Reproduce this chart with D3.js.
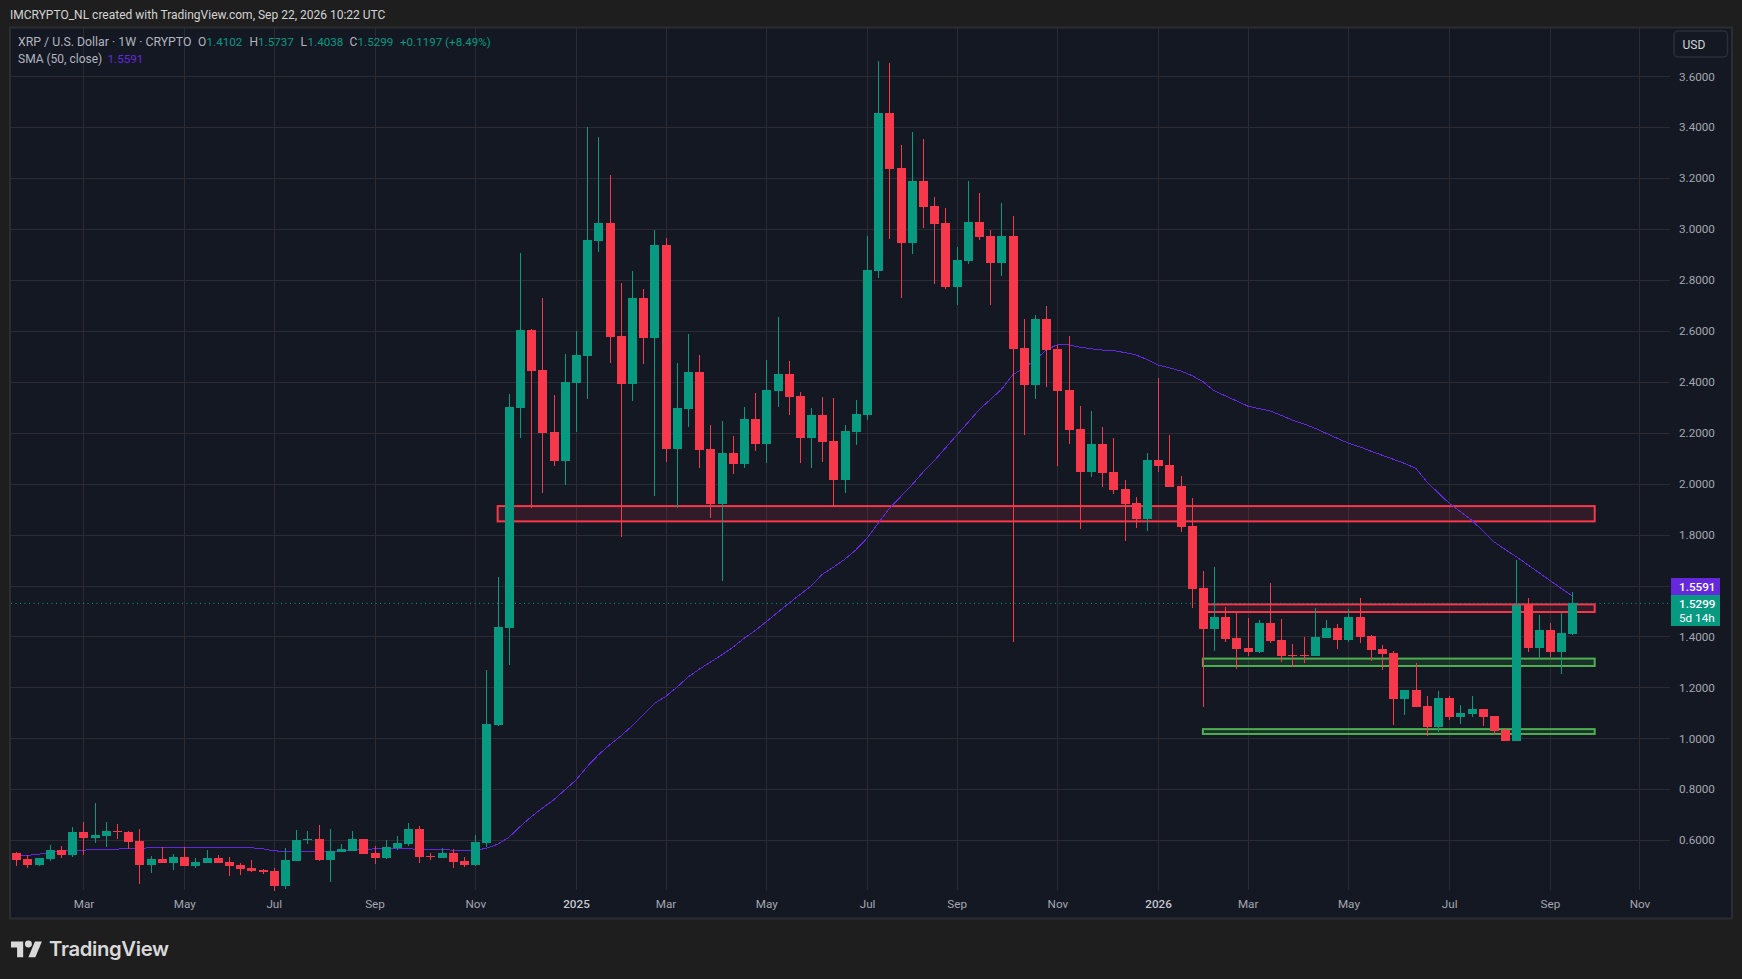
<!DOCTYPE html>
<html><head><meta charset="utf-8"><title>XRP / U.S. Dollar</title>
<script src="https://d3js.org/d3.v7.min.js"></script>
<style>html,body{margin:0;padding:0;background:#1e1e1e;overflow:hidden}svg{display:block}text{font-family:Roboto,sans-serif}</style>
</head><body><svg id="c" width="1742" height="979"></svg>
<script>
const opens=[.550,.526,.502,.526,.561,.542,.632,.609,.616,.636,.632,.597,.502,.526,.510,.534,.499,.510,.530,.514,.502,.491,.483,.479,.420,.518,.602,.605,.522,.554,.557,.605,.550,.530,.569,.585,.644,.538,.530,.550,.518,.502,.589,1.052,1.433,2.298,2.604,2.447,2.203,2.089,2.396,2.502,2.953,3.024,2.580,2.392,2.730,2.572,2.938,2.136,2.294,2.439,2.136,1.920,2.121,2.078,2.254,2.156,2.364,2.431,2.345,2.180,2.270,2.168,2.015,2.203,2.270,2.836,3.456,3.240,2.946,3.189,3.091,3.024,2.773,2.875,3.028,2.973,2.867,2.973,2.533,2.388,2.647,2.529,2.368,2.215,2.046,2.156,2.046,1.979,1.924,1.862,2.093,2.074,1.991,1.834,1.591,1.430,1.477,1.394,1.355,1.339,1.453,1.386,1.327,1.327,1.323,1.394,1.433,1.386,1.477,1.402,1.351,1.335,1.155,1.190,1.127,1.045,1.159,1.084,1.096,1.115,1.088,1.033,.990,1.524,1.355,1.426,1.339,1.4102];
const highs=[.554,.540,.530,.581,.577,.652,.671,.746,.671,.663,.636,.644,.538,.573,.546,.573,.530,.561,.542,.534,.510,.522,.487,.491,.569,.640,.636,.660,.644,.585,.636,.605,.577,.601,.616,.667,.656,.550,.569,.565,.534,.620,1.268,1.634,2.353,2.906,2.609,2.730,2.349,2.510,2.600,3.401,3.362,3.213,2.788,2.836,2.765,2.997,2.965,2.474,2.588,2.506,2.231,2.246,2.188,2.301,2.356,2.486,2.655,2.482,2.360,2.298,2.341,2.337,2.231,2.329,2.973,3.660,3.653,3.330,3.382,3.354,3.126,3.083,2.930,3.189,3.142,2.997,3.103,3.052,2.647,2.663,2.698,2.545,2.580,2.305,2.286,2.223,2.180,2.015,1.948,2.121,2.415,2.192,2.030,1.944,1.657,1.673,1.516,1.496,1.473,1.465,1.610,1.469,1.371,1.398,1.512,1.465,1.449,1.508,1.551,1.406,1.367,1.343,1.190,1.296,1.166,1.186,1.166,1.131,1.166,1.115,1.088,1.041,1.700,1.551,1.485,1.453,1.492,1.5737];
const lows=[.499,.492,.499,.519,.530,.534,.542,.589,.573,.605,.565,.428,.471,.510,.483,.499,.491,.510,.510,.459,.463,.475,.467,.400,.408,.518,.585,.518,.436,.554,.557,.546,.506,.526,.561,.577,.510,.522,.530,.491,.495,.499,.573,1.050,1.288,2.180,1.905,1.964,2.070,1.995,2.203,2.333,2.910,2.474,1.791,2.325,2.470,1.952,2.085,1.905,2.223,2.062,1.866,1.618,2.038,2.062,2.129,2.081,2.301,2.270,2.081,2.062,2.085,1.913,1.964,2.152,2.250,2.808,2.961,2.730,2.902,3.005,2.785,2.765,2.702,2.863,2.957,2.702,2.816,1.378,2.192,2.333,2.380,2.070,2.156,1.822,2.026,1.987,1.960,1.775,1.826,1.814,2.046,1.987,1.811,1.512,1.124,1.343,1.378,1.272,1.323,1.335,1.375,1.300,1.280,1.296,1.323,1.394,1.351,1.378,1.375,1.304,1.268,1.052,1.092,1.123,1.009,1.025,1.072,1.056,1.084,1.049,1.013,.990,.990,1.339,1.312,1.320,1.253,1.4038];
const closes=[.522,.502,.530,.561,.542,.632,.609,.620,.636,.633,.593,.502,.526,.510,.534,.499,.514,.530,.510,.499,.487,.479,.475,.420,.522,.601,.605,.522,.557,.565,.605,.546,.530,.573,.589,.644,.534,.535,.550,.514,.502,.593,1.056,1.437,2.301,2.604,2.443,2.199,2.089,2.400,2.506,2.957,3.024,2.576,2.392,2.730,2.572,2.938,2.136,2.298,2.439,2.133,1.920,2.121,2.078,2.254,2.156,2.368,2.431,2.341,2.180,2.270,2.164,2.015,2.207,2.274,2.840,3.456,3.236,2.946,3.189,3.087,3.020,2.773,2.879,3.028,2.969,2.867,2.973,2.529,2.388,2.647,2.525,2.364,2.211,2.046,2.156,2.042,1.975,1.920,1.862,2.093,2.070,1.987,1.830,1.587,1.430,1.477,1.390,1.351,1.339,1.453,1.382,1.323,1.324,1.324,1.398,1.433,1.386,1.477,1.398,1.347,1.331,1.155,1.190,1.123,1.045,1.159,1.084,1.100,1.115,1.084,1.029,.990,1.524,1.355,1.426,1.339,1.414,1.5299];
const sma50=[.536,.540,.545,.552,.556,.559,.561,.562,.563,.565,.566,.568,.570,.570,.570,.570,.570,.570,.570,.570,.570,.570,.566,.558,.556,.555,.555,.555,.556,.558,.560,.563,.566,.567,.566,.566,.564,.563,.562,.561,.560,.560,.568,.584,.611,.653,.692,.726,.758,.797,.836,.889,.935,.974,1.009,1.048,1.092,1.137,1.164,1.200,1.240,1.271,1.299,1.327,1.357,1.392,1.423,1.458,1.494,1.530,1.564,1.598,1.644,1.672,1.703,1.740,1.786,1.845,1.903,1.949,1.995,2.045,2.09,2.14,2.19,2.24,2.29,2.33,2.37,2.427,2.455,2.485,2.525,2.546,2.546,2.536,2.530,2.525,2.523,2.515,2.506,2.488,2.466,2.455,2.443,2.425,2.401,2.365,2.345,2.325,2.305,2.295,2.286,2.268,2.250,2.235,2.218,2.198,2.178,2.159,2.145,2.128,2.112,2.096,2.080,2.061,2.008,1.965,1.923,1.890,1.857,1.815,1.772,1.742,1.713,1.682,1.651,1.620,1.589,1.5591];
const priceTicks=[3.6,3.4,3.2,3.0,2.8,2.6,2.4,2.2,2.0,1.8,1.4,1.2,1.0,0.8,0.6];
const gridPrices=[3.6,3.4,3.2,3.0,2.8,2.6,2.4,2.2,2.0,1.8,1.6,1.4,1.2,1.0,0.8,0.6];
const timeTickBars=[6,15,23,32,41,50,58,67,76,84,93,102,110,119,128,137,145];
const timeTickLabels=["Mar","May","Jul","Sep","Nov","2025","Mar","May","Jul","Sep","Nov","2026","Mar","May","Jul","Sep","Nov"];
const zoneStart=[43,106,106,106];
const zoneEnd=[141,141,141,141];
const zoneTop=[1.912,1.526,1.313,1.036];
const zoneBottom=[1.852,1.496,1.284,1.017];
const zoneKind=["red","red","green","green"];
const lastClose=1.5299, lastSma=1.5591;

const UP="#089981",DOWN="#f7374a",GRID="#2a2b33",LABEL="#a3a6af";
const svg=d3.select("#c");
const x=d3.scaleLinear().domain([0,139]).range([16.3,1572.3]);
const y=d3.scaleLinear().domain([1,3.6]).range([738.3,76.3]);
const bars=d3.range(closes.length);

svg.append("rect").attr("x",0).attr("y",0).attr("width",1742).attr("height",979).attr("fill","#1e1e1e");
svg.append("rect").attr("x",10).attr("y",27.5).attr("width",1722).attr("height",891).attr("fill","#141823").attr("stroke","#2a2e2e").attr("stroke-width",2);

// grid through D3 axes
const gy=svg.append("g").attr("transform","translate(1670,0)").attr("shape-rendering","crispEdges")
  .call(d3.axisLeft(y).tickValues(gridPrices).tickSize(1659).tickFormat(""));
const gx=svg.append("g").attr("transform","translate(0,890)").attr("shape-rendering","crispEdges")
  .call(d3.axisBottom(x).tickValues(timeTickBars).tickSize(-862).tickFormat(""));
[gy,gx].forEach(g=>{g.select(".domain").remove();g.selectAll("line").attr("stroke",GRID).attr("stroke-width",1);});

// zones
const zoneCol={red:{s:"#f7374a",f:"rgba(247,55,74,0.13)"},green:{s:"#4caf50",f:"rgba(76,175,80,0.16)"}};
svg.append("g").selectAll("rect").data(zoneKind).join("rect")
  .attr("x",(d,i)=>x(zoneStart[i])).attr("width",(d,i)=>x(zoneEnd[i])-x(zoneStart[i]))
  .attr("y",(d,i)=>y(zoneTop[i])).attr("height",(d,i)=>y(zoneBottom[i])-y(zoneTop[i]))
  .attr("fill",d=>zoneCol[d].f).attr("stroke",d=>zoneCol[d].s).attr("stroke-width",2);

// last price dotted line
svg.append("line").attr("x1",11).attr("x2",1670).attr("y1",y(lastClose)).attr("y2",y(lastClose))
  .attr("stroke",UP).attr("stroke-width",1).attr("stroke-dasharray","1 3.5");

// SMA
svg.append("path").datum(sma50)
  .attr("d",d3.line().x((d,i)=>x(i)).y(d=>y(d)))
  .attr("fill","none").attr("stroke","#6428dc").attr("stroke-width",1).attr("shape-rendering","crispEdges");

// candles
const cg=svg.append("g").attr("shape-rendering","crispEdges");
const col=i=>closes[i]>=opens[i]?UP:DOWN;
cg.selectAll("rect.w").data(bars).join("rect").attr("class","w")
  .attr("x",i=>Math.round(x(i))).attr("width",1)
  .attr("y",i=>y(highs[i])).attr("height",i=>y(lows[i])-y(highs[i]))
  .attr("fill",col);
cg.selectAll("rect.b").data(bars).join("rect").attr("class","b")
  .attr("x",i=>Math.round(x(i))-4).attr("width",9)
  .attr("y",i=>y(Math.max(opens[i],closes[i])))
  .attr("height",i=>Math.max(1,Math.abs(y(opens[i])-y(closes[i]))))
  .attr("fill",col);

// price axis
const ax=svg.append("g").attr("transform","translate(1670,0)")
  .call(d3.axisRight(y).tickValues(priceTicks).tickSize(0).tickPadding(9).tickFormat(d3.format(".4f")));
ax.select(".domain").remove();
ax.selectAll("text").attr("fill",LABEL).style("font-family","Roboto,sans-serif").style("font-size","11.7px");

// time axis
const tx=svg.append("g").attr("transform","translate(0,891)")
  .call(d3.axisBottom(x).tickValues(timeTickBars).tickSize(0).tickPadding(9).tickFormat((d,i)=>timeTickLabels[i]));
tx.select(".domain").remove();
tx.selectAll("text").attr("fill",(d,i)=>/^\d/.test(timeTickLabels[i])?"#c4c7ce":LABEL)
  .style("font-family","Roboto,sans-serif").style("font-size","11.7px")
  .style("font-weight",(d,i)=>/^\d/.test(timeTickLabels[i])?"500":"400");

// badges
svg.append("rect").attr("x",1671).attr("y",578).attr("width",49).attr("height",17).attr("fill","#6528dc");
svg.append("rect").attr("x",1671).attr("y",595).attr("width",49).attr("height",31).attr("fill",UP);
const t=(s,px,py,fill,size=11.7,w=400)=>svg.append("text").attr("x",px).attr("y",py).attr("fill",fill).attr("font-size",size).attr("font-weight",w).text(s);
t(d3.format(".4f")(lastSma),1679,591,"#ffffff",11.7,500);
t(d3.format(".4f")(lastClose),1679,608,"#ffffff",11.7,500);
t("5d 14h",1679,622,"#ffffff",11.7,400);

// USD button
svg.append("rect").attr("x",1674).attr("y",31).attr("width",53.5).attr("height",26).attr("rx",4).attr("fill","#141823").attr("stroke","#2a2e39").attr("stroke-width",1.5);
t("USD",1682.5,49,"#d1d4dc",12);

// header + legend
t("IMCRYPTO_NL created with TradingView.com, Sep 22, 2026 10:22 UTC",10,19,"#d4d4d4",12);
const LEG="#b2b5be";
t("XRP / U.S. Dollar · 1W · CRYPTO",18,46,LEG,12.3);
t("O",198,46,LEG,12);t("1.4102",206.5,46,UP,11.7);
t("H",249.5,46,LEG,12);t("1.5737",258,46,UP,11.7);
t("L",300.5,46,LEG,12);t("1.4038",307.5,46,UP,11.7);
t("C",349.5,46,LEG,12);t("1.5299",357.5,46,UP,11.7);
t("+0.1197 (+8.49%)",400,46,UP,11.6);
t("SMA (50, close)",18,63,LEG,12);t("1.5591",107.5,63,"#6428dc",11.7);

// footer logo
const lg=svg.append("g").attr("transform","translate(11,938) scale(0.87)").attr("fill","#d9d9d9");
lg.append("path").attr("d","M14 22H7V11H0V4h14v18zM28 22h-8l7.5-18h8L28 22z");
lg.append("circle").attr("cx",20).attr("cy",7).attr("r",4);
t("TradingView",49,955.5,"#d9d9d9",20.3,600).style("font-family","Inter,sans-serif").attr("letter-spacing","-0.35");
</script></body></html>
